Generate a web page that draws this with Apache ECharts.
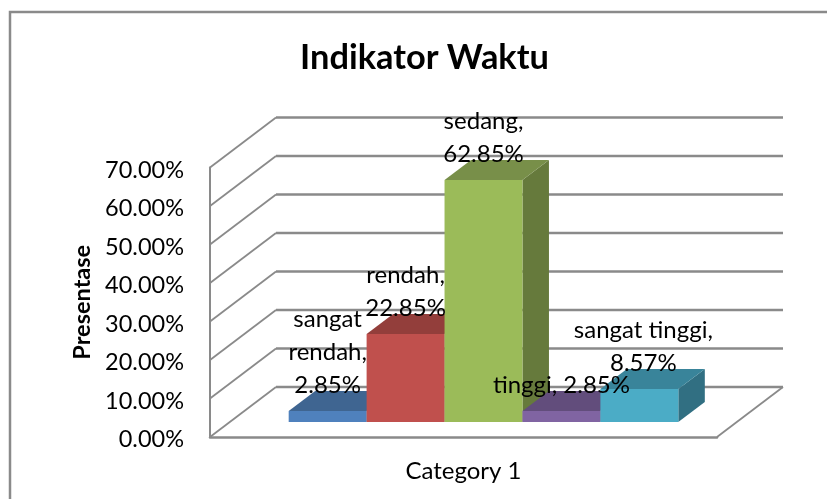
<!DOCTYPE html>
<html>
<head>
<meta charset="utf-8">
<style>
  html, body { margin: 0; background: #fff; }
  #chart { width: 827px; height: 499px; }
</style>
<script src="https://cdn.jsdelivr.net/npm/echarts@6/dist/echarts.min.js"></script>
</head>
<body>
<div id="chart"></div>
<script>
var categories = ['Category 1'];
var seriesNames = ['sangat rendah', 'rendah', 'sedang', 'tinggi', 'sangat tinggi'];
var seriesValues = [2.85, 22.85, 62.85, 2.85, 8.57];
// how Excel wrapped each data label
var labelLines = [
  ['sangat', 'rendah,', '2.85%'],
  ['rendah,', '22.85%'],
  ['sedang,', '62.85%'],
  ['tinggi, 2.85%'],
  ['sangat tinggi,', '8.57%']
];
var yTicks = [0, 10, 20, 30, 40, 50, 60, 70];
var frontColors = ['#4f81bd', '#c0504d', '#9bbb59', '#8064a2', '#4bacc6'];
var topColors = ['#3f6591', '#933e3b', '#788f49', '#624d7c', '#39849a'];
var sideColors = ['#365779', '#7c3432', '#667a3c', '#534169', '#316f82'];

var FONT = 'Lato';
var GRAY = '#8a8a8a';

// wall depth and bar depth in pixels
var wallDx = 66, wallDy = -50;
var barOffX = 20, barOffY = -15;
var barDx = 26.5, barDy = -20;
var barRatio = 0.1537;

function renderWall(params, api) {
  var cs = params.coordSys;
  var p = api.coord([0, api.value(1)]);
  var y = p[1];
  var right = cs.x + cs.width;
  var children = [
    { type: 'line', shape: { x1: cs.x, y1: y, x2: cs.x + wallDx, y2: y + wallDy }, style: { stroke: GRAY, lineWidth: 1.8 } },
    { type: 'line', shape: { x1: cs.x + wallDx, y1: y + wallDy, x2: right + wallDx, y2: y + wallDy }, style: { stroke: GRAY, lineWidth: 2.5 } }
  ];
  if (api.value(1) === 0) {
    children.push({
      type: 'line',
      shape: { x1: right, y1: y, x2: right + wallDx, y2: y + wallDy },
      style: { stroke: GRAY, lineWidth: 1.8 }
    });
  }
  return { type: 'group', children: children };
}

function makeBar(idx) {
  return function (params, api) {
    var w = api.size([1, 0])[0] * barRatio;
    var top = api.coord([0, api.value(1)]);
    var base = api.coord([0, 0]);
    var x0 = top[0] + barOffX + (idx - seriesValues.length / 2) * w;
    var x1 = x0 + w;
    var yt = top[1] + barOffY;
    var yb = base[1] + barOffY;
    return {
      type: 'group',
      children: [
        { type: 'polygon', shape: { points: [[x1, yb], [x1 + barDx, yb + barDy], [x1 + barDx, yt + barDy], [x1, yt]] }, style: { fill: sideColors[idx] } },
        { type: 'polygon', shape: { points: [[x0, yt], [x1, yt], [x1 + barDx, yt + barDy], [x0 + barDx, yt + barDy]] }, style: { fill: topColors[idx] } },
        { type: 'rect', shape: { x: x0, y: yt, width: w, height: yb - yt }, style: { fill: frontColors[idx] } },
        {
          type: 'text', z2: 100,
          style: {
            x: (x0 + x1) / 2 + (idx === 4 ? 4 : 0), y: yt - 9,
            text: labelLines[idx].join('\n'),
            font: '24px ' + FONT, fill: '#000',
            align: 'center', verticalAlign: 'bottom', lineHeight: 33
          }
        }
      ]
    };
  };
}

var series = [{
  type: 'custom', name: 'walls', silent: true, z: 1,
  encode: { x: 0, y: 1 },
  data: yTicks.map(function (t) { return [0, t]; }),
  renderItem: renderWall
}];
seriesValues.forEach(function (v, i) {
  series.push({
    type: 'custom', name: seriesNames[i], z: 2,
    encode: { x: 0, y: 1 },
    data: [[0, v]],
    renderItem: makeBar(i)
  });
});

var chart = echarts.init(document.getElementById('chart'));
chart.setOption({
  animation: false,
  title: {
    text: 'Indikator Waktu', left: 419.5, top: 36, textAlign: 'center',
    textStyle: { fontFamily: FONT, fontWeight: 'bold', fontSize: 34.4, color: '#000' }
  },
  grid: { left: 210, right: 110, top: 167.5, bottom: 62 },
  graphic: [{
    type: 'polyline', z: -1,
    shape: { points: [[10, 499], [10, 12], [827, 12]] },
    style: { fill: null, stroke: GRAY, lineWidth: 2.5 }
  }],
  xAxis: {
    type: 'category', data: categories,
    axisLine: { lineStyle: { color: GRAY, width: 2.5 } },
    axisTick: { show: false },
    axisLabel: { fontFamily: FONT, fontSize: 24, color: '#000', margin: 22 }
  },
  yAxis: {
    type: 'value', min: 0, max: 70, interval: 10,
    name: 'Presentase', nameLocation: 'middle', nameGap: 116,
    nameTextStyle: { fontFamily: FONT, fontWeight: 'bold', fontSize: 23.5, color: '#000' },
    axisLine: { show: true, lineStyle: { color: GRAY, width: 2 } },
    axisTick: { show: false },
    splitLine: { show: false },
    axisLabel: {
      margin: 26,
      formatter: function (v) { return '{a|' + v.toFixed(2) + '%}'; },
      rich: { a: { fontFamily: FONT, fontSize: 23.5, color: '#000', padding: [5, 0, 0, 0] } }
    }
  },
  series: series
});
</script>
</body>
</html>
